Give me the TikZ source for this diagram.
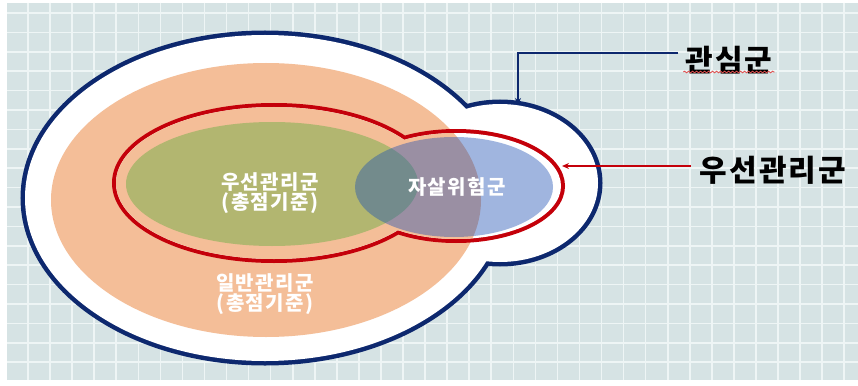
\documentclass[tikz,border=0pt]{standalone}
\usepackage{fontspec}
\usetikzlibrary{arrows.meta,decorations.pathmorphing}
\newfontfamily\krfont{Noto Sans CJK KR}[LetterSpace=7]
\definecolor{navyc}{RGB}{13,40,110}
\definecolor{redc}{RGB}{196,0,10}
\definecolor{salmonc}{RGB}{244,190,152}
\definecolor{greenc}{RGB}{178,182,112}
\definecolor{bluec}{RGB}{30,80,180}
\definecolor{bgc}{RGB}{214,227,228}
\definecolor{gridc}{RGB}{238,245,245}
\definecolor{squigc}{RGB}{225,80,80}
\tikzset{
  gridline/.style={gridc, line width=1.6pt},
  inlabel/.style={text=white, align=center, inner sep=0pt, font=\krfont\bfseries\fontsize{20}{20}\selectfont},
  outlabel/.style={text=black, inner sep=0pt, font=\krfont\bfseries\fontsize{30}{30}\selectfont},
  conn/.style={line width=2pt, -{Stealth[length=7pt,width=6pt]}}
}
\begin{document}
\begin{tikzpicture}[x=1pt,y=-1pt]
\useasboundingbox (0,0) rectangle (858,385);
\fill[white] (0,0) rectangle (858,385);
\fill[bgc] (7,3) rectangle (858,380);
\begin{scope}
  \clip (7,3) rectangle (858,380);
  \foreach \i in {0,...,38} \draw[gridline] ({28+22.06*\i},3) -- ({28+22.06*\i},380);
  \foreach \j in {0,...,19} \draw[gridline] (7,{13+19.4*\j}) -- (858,{13+19.4*\j});
\end{scope}
% outer (navy) shape
\draw[navyc, line width=9pt] (265,198) ellipse[x radius=240pt, y radius=163pt]
  (500,183) ellipse[x radius=98pt, y radius=79pt];
\fill[white] (265,198) ellipse[x radius=240pt, y radius=163pt]
  (500,183) ellipse[x radius=98pt, y radius=79pt];
% salmon
\fill[salmonc] (266,200) ellipse[x radius=215pt, y radius=137pt];
% red outline
\draw[redc, line width=8pt] (274,183) ellipse[x radius=158pt, y radius=76pt]
  (456,186) ellipse[x radius=105pt, y radius=53pt];
\begin{scope}
  \clip (274,183) ellipse[x radius=158pt, y radius=76pt]
    (456,186) ellipse[x radius=105pt, y radius=53pt];
  \fill[white] (0,0) rectangle (858,385);
  \fill[salmonc] (266,200) ellipse[x radius=215pt, y radius=137pt];
\end{scope}
% green and blue
\fill[greenc] (272,184) ellipse[x radius=146pt, y radius=62pt];
\fill[bluec, fill opacity=0.42] (454,187) ellipse[x radius=99pt, y radius=50pt];
% labels
\node[inlabel] (pri) at (270,193) {우선관리군\\(총점기준)};
\node[inlabel] (gen) at (265,294) {일반관리군\\(총점기준)};
\node[inlabel] (sui) at (457,187) {자살위험군};
\node[outlabel] (gw) at (729,60) {관심군};
\node[outlabel] (pw) at (773,170) {우선관리군};
\coordinate (outerTop) at (518,105);
\coordinate (redRight) at (562,166);
\draw[conn, navyc] ([xshift=-7pt,yshift=7pt]gw.west) -| (outerTop);
\draw[conn, redc] ([xshift=-9pt,yshift=4pt]pw.west) -- (redRight);
\draw[squigc, line width=0.8pt, decorate, decoration={snake, segment length=4pt, amplitude=0.8pt}]
  ([xshift=-2pt,yshift=-12pt]gw.west) -- ([xshift=2pt,yshift=-12pt]gw.east);
\end{tikzpicture}
\end{document}
